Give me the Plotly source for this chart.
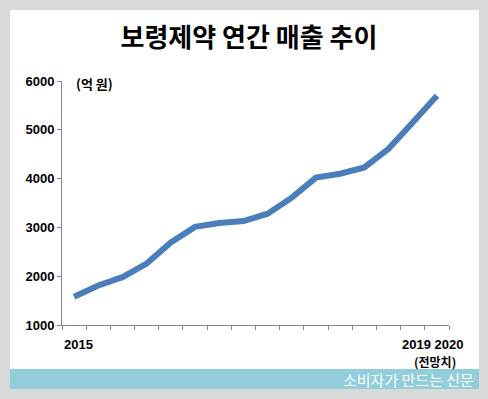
import plotly.graph_objects as go

# ---- data ----
periods = [f"p{i}" for i in range(1, 17)]
sales = [1580, 1810, 1980, 2260, 2690, 3010, 3090, 3130, 3280, 3610, 4020, 4100, 4230, 4610, 5150, 5700]
title_text = "보령제약 연간 매출 추이"
unit_text = "(억 원)"
first_label = "2015"
last_label = "2019 2020"
forecast_note = "(전망치)"
footer_text = "소비자가 만드는 신문"
y_ticks = [1000, 2000, 3000, 4000, 5000, 6000]

W, H = 488, 399
ML, MR, MT, MB = 62, 39, 81, 74
PW, PH = W - ML - MR, H - MT - MB

def px(x):
    return (x - ML) / PW

def py(y):
    return 1 - (y - MT) / PH

fig = go.Figure()
fig.add_trace(go.Scatter(
    x=periods, y=sales, mode="lines",
    line=dict(color="#4a7ebb", width=6),
    hoverinfo="skip", showlegend=False,
))

shapes = [
    dict(type="rect", xref="paper", yref="paper", layer="below",
         x0=px(10), x1=px(479), y0=py(369), y1=py(10),
         fillcolor="white", line=dict(width=0)),
    dict(type="rect", xref="paper", yref="paper", layer="below",
         x0=px(10), x1=px(479), y0=py(389), y1=py(369),
         fillcolor="#92cddc", line=dict(width=0)),
]

lab_font = dict(family="Liberation Sans, Arial, sans-serif", size=13, color="black")
kfont = dict(family="Noto Sans CJK KR, sans-serif", size=13, color="black")

annotations = [
    dict(text=f"<b>{unit_text}</b>", xref="paper", yref="paper", x=px(74), y=py(84),
         xanchor="left", yanchor="middle", showarrow=False, font=kfont),
    dict(text=f"<b>{first_label}</b>", xref="x", yref="paper", x=periods[0], y=py(344),
         xanchor="center", yanchor="middle", showarrow=False, xshift=4, font=lab_font),
    dict(text=f"<b>{last_label}</b>", xref="x", yref="paper", x=periods[-1], y=py(344),
         xanchor="center", yanchor="middle", showarrow=False, xshift=-4, font=lab_font),
    dict(text=f"<b>{forecast_note}</b>", xref="x", yref="paper", x=periods[-1], y=py(361),
         xanchor="center", yanchor="middle", showarrow=False, xshift=-2,
         font=dict(family="Noto Sans CJK KR, sans-serif", size=12, color="black")),
    dict(text=footer_text, xref="paper", yref="paper", x=px(476), y=py(379),
         xanchor="right", yanchor="middle", showarrow=False,
         font=dict(family="Noto Sans CJK KR, sans-serif", size=15, color="white")),
]

fig.update_layout(
    width=W, height=H,
    margin=dict(l=ML, r=MR, t=MT, b=MB),
    paper_bgcolor="#d9d9d9",
    plot_bgcolor="rgba(0,0,0,0)",
    title=dict(text=f"<b>{title_text}</b>", xref="container", yref="container",
               x=249 / W, y=1 - 38 / H, xanchor="center", yanchor="middle",
               font=dict(family="Noto Sans CJK KR, sans-serif", size=26, color="black")),
    shapes=shapes,
    annotations=annotations,
    xaxis=dict(type="category", categoryorder="array", categoryarray=periods,
               range=[-0.5, len(periods) - 0.5],
               showticklabels=False, showgrid=False, zeroline=False,
               showline=True, linecolor="#868686", linewidth=1,
               ticks="outside", tickson="boundaries", ticklen=4,
               tickcolor="#868686", tickwidth=1),
    yaxis=dict(range=[1000, 6000], tickvals=y_ticks,
               showgrid=False, zeroline=False,
               showline=True, linecolor="#868686", linewidth=1,
               ticks="outside", ticklen=4, tickcolor="#868686", tickwidth=1,
               tickfont=dict(family="Liberation Sans, Arial, sans-serif", size=13, color="black", weight="bold")),
)

fig.write_html("out.html", config={"displayModeBar": False},
               post_script="document.body.style.margin='0';document.body.style.overflow='hidden';")
